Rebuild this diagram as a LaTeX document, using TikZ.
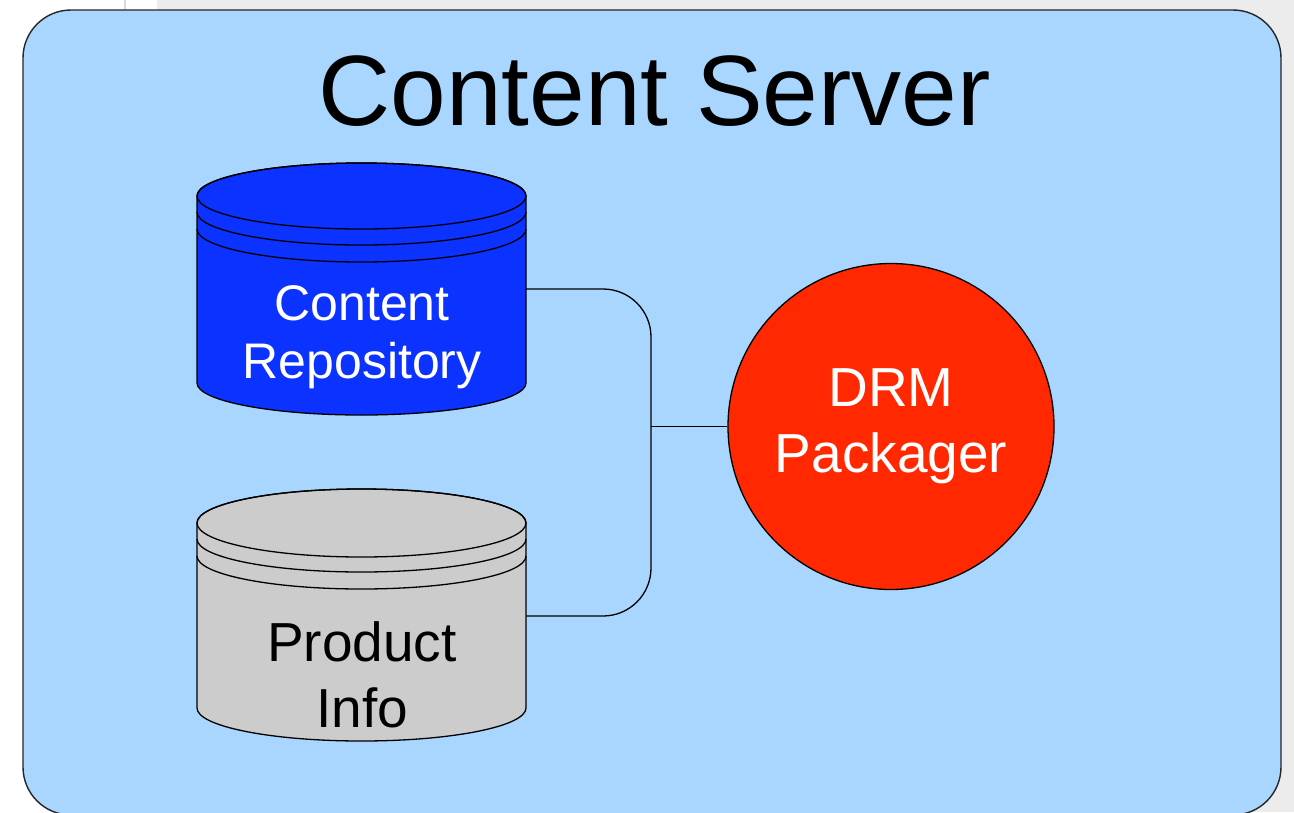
\documentclass[tikz,border=0pt]{standalone}
\usepackage{fontspec}
\setmainfont{Liberation Sans}
\definecolor{boxblue}{RGB}{168,214,254}
\definecolor{dbblue}{RGB}{12,50,255}
\definecolor{dbgray}{RGB}{204,204,204}
\definecolor{drmred}{RGB}{255,40,0}
\definecolor{pagegray}{RGB}{236,236,236}
\tikzset{
  edgeline/.style={draw=black, line width=1.3pt},
  outline/.style={draw=black!85, line width=1.4pt},
  dblabel/.style={inner sep=0pt, align=center},
}
\begin{document}
\begin{tikzpicture}[x=1pt,y=1pt]
\useasboundingbox (0,0) rectangle (1294,-812);
% page background
\fill[white] (0,0) rectangle (1294,-812);
\fill[pagegray] (157,0) rectangle (1294,-812);
\draw[black!15, line width=1.5pt] (125,0) -- (125,-10);
% main box
\draw[outline, fill=boxblue, rounded corners=48pt] (23,-10) rectangle (1281,-815);
\node[inner sep=0pt, anchor=base, font=\fontsize{100}{120}\selectfont] (title) at (654.5,-125) {Content Server};
% content repository cylinder
\filldraw[fill=dbblue, edgeline] (197,-196) -- (197,-383)
  arc[start angle=180, end angle=360, x radius=164.5pt, y radius=32pt]
  -- (526,-196)
  arc[start angle=0, end angle=180, x radius=164.5pt, y radius=33pt] -- cycle;
\draw[edgeline] (361.5,-196) ellipse[x radius=164.5pt, y radius=33pt];
\draw[edgeline] (197,-212) arc[start angle=180, end angle=360, x radius=164.5pt, y radius=33pt];
\draw[edgeline] (197,-229) arc[start angle=180, end angle=360, x radius=164.5pt, y radius=33pt];
\node[dblabel, text=white, font=\fontsize{50}{58}\selectfont] (repo) at (362,-337) {Content\\Repository};
% product info cylinder
\filldraw[fill=dbgray, edgeline] (197,-523) -- (197,-708)
  arc[start angle=180, end angle=360, x radius=164.5pt, y radius=33pt]
  -- (526,-523)
  arc[start angle=0, end angle=180, x radius=164.5pt, y radius=34pt] -- cycle;
\draw[edgeline] (361.5,-523) ellipse[x radius=164.5pt, y radius=34pt];
\draw[edgeline] (197,-539) arc[start angle=180, end angle=360, x radius=164.5pt, y radius=33pt];
\draw[edgeline] (197,-556) arc[start angle=180, end angle=360, x radius=164.5pt, y radius=33pt];
\node[dblabel, text=black, font=\fontsize{55}{66}\selectfont] (prod) at (362,-675) {Product\\Info};
% DRM packager
\node[circle, draw=black, line width=1.3pt, fill=drmred, minimum size=326pt, inner sep=0pt,
      text=white, align=center, font=\fontsize{55}{66}\selectfont] (drm) at (891,-426.5) {DRM\\Packager};
% connectors
\coordinate (repoout) at (526,-289);
\coordinate (prodout) at (526,-616);
\coordinate (join) at (651,-426.5);
\draw[edgeline, rounded corners=48pt] (repoout) -- (651,-289) -- (651,-616) -- (prodout);
\draw[edgeline] (join) -- (drm.west);
\end{tikzpicture}
\end{document}
